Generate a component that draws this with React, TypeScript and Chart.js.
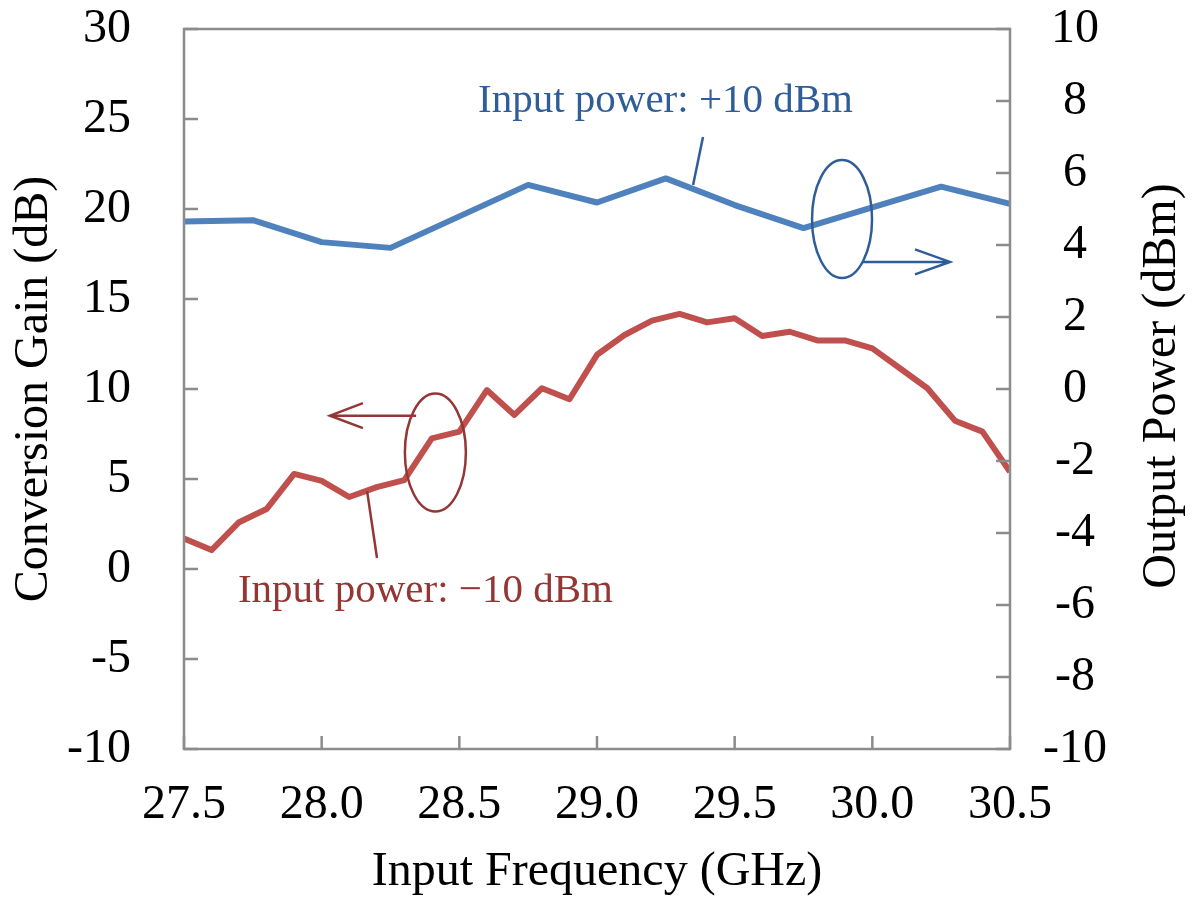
import { useEffect, useRef } from 'react';
import { Chart, registerables } from 'chart.js';

Chart.register(...registerables);

// Input power +10 dBm -> output power (right axis, dBm)
const freqHigh = [27.5, 27.75, 28.0, 28.25, 28.75, 29.0, 29.25, 29.5, 29.75, 30.25, 30.5];
const outputPower = [4.65, 4.69, 4.08, 3.92, 5.67, 5.18, 5.85, 5.11, 4.47, 5.62, 5.14];

// Input power -10 dBm -> conversion gain (left axis, dB)
const freqLow = [
  27.5, 27.6, 27.7, 27.8, 27.9, 28.0, 28.1, 28.2, 28.3, 28.4, 28.5,
  28.6, 28.7, 28.8, 28.9, 29.0, 29.1, 29.2, 29.3, 29.4, 29.5,
  29.6, 29.7, 29.8, 29.9, 30.0, 30.1, 30.2, 30.3, 30.4, 30.5,
];
const conversionGain = [
  1.7, 1.05, 2.6, 3.33, 5.28, 4.9, 4.0, 4.55, 4.94, 7.26, 7.63,
  9.94, 8.56, 10.04, 9.43, 11.9, 13.0, 13.8, 14.17, 13.7, 13.93,
  12.94, 13.18, 12.7, 12.7, 12.26, 11.15, 10.04, 8.24, 7.63, 5.4,
];

const xTicks = { min: 27.5, max: 30.5, step: 0.5 };
const leftTicks = { min: -10, max: 30, step: 5 };
const rightTicks = { min: -10, max: 10, step: 2 };

const xTitle = 'Input Frequency (GHz)';
const leftTitle = 'Conversion Gain (dB)';
const rightTitle = 'Output Power (dBm)';
const labelHigh = 'Input power: +10 dBm';
const labelLow = 'Input power: \u221210 dBm';

const FONT = '"Liberation Serif", "Times New Roman", serif';
const BLUE = '#4F81BD';
const RED = '#C0504D';
const BLUE_DARK = '#2F5D98';
const RED_DARK = '#943634';
const AXIS = '#8C8C8C';

const annotationPlugin = {
  id: 'annot',
  afterDatasetsDraw(chart: any) {
    const { ctx, chartArea } = chart;
    const xs = chart.scales.x;
    const yl = chart.scales.yL;
    const px = (v: number) => xs.getPixelForValue(v);
    const py = (v: number) => yl.getPixelForValue(v);
    ctx.save();
    // box
    ctx.strokeStyle = AXIS;
    ctx.lineWidth = 2.5;
    ctx.strokeRect(chartArea.left, chartArea.top, chartArea.right - chartArea.left, chartArea.bottom - chartArea.top);
    // inward ticks
    ctx.beginPath();
    yl.ticks.forEach((t: any) => {
      const y = yl.getPixelForValue(t.value);
      ctx.moveTo(chartArea.left, y);
      ctx.lineTo(chartArea.left + 14, y);
    });
    const yr = chart.scales.yR;
    yr.ticks.forEach((t: any) => {
      const y = yr.getPixelForValue(t.value);
      ctx.moveTo(chartArea.right, y);
      ctx.lineTo(chartArea.right - 14, y);
    });
    xs.ticks.forEach((t: any) => {
      const x = xs.getPixelForValue(t.value);
      ctx.moveTo(x, chartArea.bottom);
      ctx.lineTo(x, chartArea.bottom - 13);
    });
    ctx.stroke();

    ctx.lineWidth = 2.5;
    // blue ellipse + arrow
    ctx.strokeStyle = BLUE_DARK;
    ctx.beginPath();
    ctx.ellipse(px(29.89), py(19.44), 30, 59, 0, 0, Math.PI * 2);
    ctx.stroke();
    const ay = py(17.06);
    const ax0 = px(29.966);
    const ax1 = px(30.282);
    ctx.beginPath();
    ctx.moveTo(ax0, ay);
    ctx.lineTo(ax1, ay);
    ctx.moveTo(ax1 - 35, ay - 12.5);
    ctx.lineTo(ax1, ay);
    ctx.lineTo(ax1 - 35, ay + 12.5);
    ctx.stroke();
    // blue leader
    ctx.beginPath();
    ctx.moveTo(px(29.385), py(24.0));
    ctx.lineTo(px(29.349), py(21.33));
    ctx.stroke();

    // red ellipse + arrow
    ctx.strokeStyle = RED_DARK;
    ctx.beginPath();
    ctx.ellipse(px(28.413), py(6.47), 30.5, 59, 0, 0, Math.PI * 2);
    ctx.stroke();
    const ry = py(8.52);
    const rx0 = px(28.343);
    const rx1 = px(28.03);
    ctx.beginPath();
    ctx.moveTo(rx0, ry);
    ctx.lineTo(rx1, ry);
    ctx.moveTo(rx1 + 33, ry - 12.5);
    ctx.lineTo(rx1, ry);
    ctx.lineTo(rx1 + 33, ry + 12.5);
    ctx.stroke();
    // red leader
    ctx.beginPath();
    ctx.moveTo(px(28.165), py(4.33));
    ctx.lineTo(px(28.201), py(0.61));
    ctx.stroke();

    // labels
    ctx.font = `41px ${FONT}`;
    ctx.textAlign = 'left';
    ctx.textBaseline = 'alphabetic';
    ctx.fillStyle = BLUE_DARK;
    ctx.fillText(labelHigh, px(28.575) - 2, py(25.39));
    ctx.fillStyle = RED_DARK;
    ctx.fillText(labelLow, px(27.703) - 2, py(-1.83));

    // right axis title (reads bottom-to-top)
    ctx.font = `48px ${FONT}`;
    ctx.fillStyle = '#000';
    ctx.textAlign = 'center';
    ctx.textBaseline = 'middle';
    ctx.translate(1162, (chartArea.top + chartArea.bottom) / 2 - 3);
    ctx.rotate(-Math.PI / 2);
    ctx.fillText(rightTitle, 0, 0);
    ctx.restore();
  },
};

const zeroPad = (s: any) => {
  s.paddingTop = 0;
  s.paddingBottom = 0;
  s.paddingLeft = 0;
  s.paddingRight = 0;
};

export default function App() {
  const ref = useRef<HTMLCanvasElement | null>(null);
  useEffect(() => {
    if (!ref.current) return;
    const font = { family: FONT, size: 48 };
    const chart = new Chart(ref.current, {
      type: 'line',
      data: {
        datasets: [
          {
            label: 'Output power',
            data: freqHigh.map((f, i) => ({ x: f, y: outputPower[i] })),
            yAxisID: 'yR',
            borderColor: BLUE,
            borderWidth: 6,
            pointRadius: 0,
            tension: 0,
            borderJoinStyle: 'round',
          },
          {
            label: 'Conversion gain',
            data: freqLow.map((f, i) => ({ x: f, y: conversionGain[i] })),
            yAxisID: 'yL',
            borderColor: RED,
            borderWidth: 6,
            pointRadius: 0,
            tension: 0,
            borderJoinStyle: 'round',
          },
        ],
      },
      options: {
        responsive: false,
        animation: false,
        devicePixelRatio: 1,
        layout: { padding: { top: 29, left: 0, right: 0, bottom: 0 } },
        plugins: { legend: { display: false }, tooltip: { enabled: false } },
        scales: {
          x: {
            type: 'linear',
            min: xTicks.min,
            max: xTicks.max,
            afterFit: (s: any) => { s.height = 152; zeroPad(s); },
            ticks: {
              stepSize: xTicks.step,
              padding: 28,
              color: '#000',
              font,
              maxRotation: 0,
              autoSkip: false,
              callback: (v: any) => Number(v).toFixed(1),
            },
            grid: { display: false, drawTicks: false },
            border: { display: false },
            title: { display: true, text: xTitle, color: '#000', font, padding: { top: 0, bottom: 0 } },
          },
          yL: {
            type: 'linear',
            position: 'left',
            min: leftTicks.min,
            max: leftTicks.max,
            afterFit: (s: any) => { s.width = 184; zeroPad(s); },
            ticks: { stepSize: leftTicks.step, padding: 53, color: '#000', font, callback: (v: any) => String(v) },
            grid: { display: false, drawTicks: false },
            border: { display: false },
            title: { display: true, text: leftTitle, color: '#000', font, padding: { top: 6, bottom: 0 } },
          },
          yR: {
            type: 'linear',
            position: 'right',
            min: rightTicks.min,
            max: rightTicks.max,
            afterFit: (s: any) => { s.width = 185; zeroPad(s); },
            ticks: { stepSize: rightTicks.step, padding: 33, crossAlign: 'center', color: '#000', font, callback: (v: any) => String(v) },
            grid: { display: false, drawTicks: false },
            border: { display: false },
          },
        },
      },
      plugins: [annotationPlugin],
    } as any);
    return () => chart.destroy();
  }, []);
  return (
    <div style={{ position: 'fixed', left: 0, top: 0, width: 1195, height: 901, background: '#fff' }}>
      <canvas ref={ref} width={1195} height={901} style={{ display: 'block' }} />
    </div>
  );
}
